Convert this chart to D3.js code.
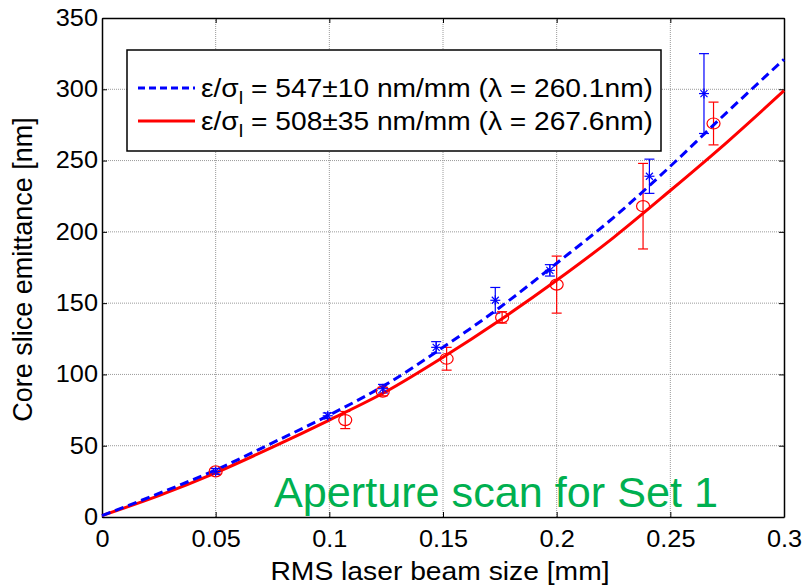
<!DOCTYPE html>
<html>
<head>
<meta charset="utf-8">
<script src="https://cdn.jsdelivr.net/npm/d3@7"></script>
<style>
  body { margin: 0; padding: 0; background: #fff; }
  text { font-family: "Liberation Sans", Arial, sans-serif; }
</style>
</head>
<body>
<script>
// fitted curves
const fitX = [0, 0.025, 0.05, 0.075, 0.1, 0.125, 0.15, 0.175, 0.2, 0.225, 0.25, 0.275, 0.3];
const fitBlue = [1, 16.5, 33, 52, 71.5, 93, 119, 147, 178, 210, 246, 284, 321];
const fitRed = [1, 15, 31, 49, 68, 88, 112, 138, 166, 196, 229, 263, 299];

// measured points (blue asterisks, red circles)
const blueX = [0.05, 0.0993, 0.1236, 0.147, 0.173, 0.197, 0.2408, 0.2648];
const blueY = [32, 71, 90, 119, 152, 173, 239, 297];
const blueErr = [2, 2, 3, 4, 9, 4, 12, 28];
const redX = [0.05, 0.107, 0.1235, 0.1516, 0.176, 0.2, 0.238, 0.269];
const redY = [32, 68, 88, 111, 140, 163, 218, 276];
const redErr = [2, 6, 3, 8, 4, 20, 30, 15];

const xTicks = [0, 0.05, 0.1, 0.15, 0.2, 0.25, 0.3];
const yTicks = [0, 50, 100, 150, 200, 250, 300, 350];
const legendLabels = [
  { pre: "ε/σ", sub: "l", post: " = 547±10 nm/mm (λ = 260.1nm)" },
  { pre: "ε/σ", sub: "l", post: " = 508±35 nm/mm (λ = 267.6nm)" }
];

const W = 805, H = 588;
const m = { left: 102, top: 18, right: 21, bottom: 71 };
const stretch = 1.13; // the picture is a bit wider than tall

const svg = d3.select("body").append("svg")
  .attr("width", W).attr("height", H);

const x = d3.scaleLinear().domain([0, 0.3]).range([m.left, W - m.right]);
const y = d3.scaleLinear().domain([0, 350]).range([H - m.bottom, m.top]);

// stretch text horizontally a little
function widen(sel, f) {
  sel.each(function() {
    const len = this.getComputedTextLength();
    d3.select(this).attr("textLength", len * (f || stretch)).attr("lengthAdjust", "spacingAndGlyphs");
  });
}

// grid
const grid = svg.append("g")
  .attr("stroke", "#9a9a9a").attr("stroke-width", 1).attr("stroke-dasharray", "1,1");
grid.selectAll("line.gx").data(xTicks.slice(1, -1)).join("line")
  .attr("x1", d => x(d)).attr("x2", d => x(d))
  .attr("y1", y(0)).attr("y2", y(350));
grid.selectAll("line.gy").data(yTicks.slice(1, -1)).join("line")
  .attr("y1", d => y(d)).attr("y2", d => y(d))
  .attr("x1", x(0)).attr("x2", x(0.3));

// axes, ticks inward on all sides
const tick = 5;
const xb = svg.append("g").attr("transform", `translate(0,${y(0)})`)
  .call(d3.axisBottom(x).tickValues(xTicks).tickSizeInner(-tick).tickSizeOuter(0).tickPadding(14).tickFormat(d3.format("")));
const yl = svg.append("g").attr("transform", `translate(${x(0)},0)`)
  .call(d3.axisLeft(y).tickValues(yTicks).tickSizeInner(-tick).tickSizeOuter(0).tickPadding(4));
svg.append("g").attr("transform", `translate(0,${y(350)})`)
  .call(d3.axisTop(x).tickValues(xTicks).tickSizeInner(-tick).tickSizeOuter(0).tickFormat(""));
svg.append("g").attr("transform", `translate(${x(0.3)},0)`)
  .call(d3.axisRight(y).tickValues(yTicks).tickSizeInner(-tick).tickSizeOuter(0).tickFormat(""));
svg.selectAll(".domain").attr("stroke", "#000").attr("stroke-width", 1.5);
svg.selectAll(".tick line").attr("stroke", "#000");
svg.selectAll(".tick text")
  .attr("font-size", 23).attr("fill", "#000")
  .style("font-family", "'Liberation Sans', Arial, sans-serif");
widen(xb.selectAll(".tick text"), 1.1);
widen(yl.selectAll(".tick text"), 1.1);

// axis labels
const xLab = svg.append("text")
  .attr("x", 440).attr("y", 580).attr("text-anchor", "middle")
  .attr("font-size", 25).text("RMS laser beam size [mm]");
widen(xLab);
svg.append("text")
  .attr("transform", `translate(32,${y(175) + 2}) rotate(-90)`)
  .attr("text-anchor", "middle").attr("font-size", 27)
  .text("Core slice emittance [nm]");

// green annotation
svg.append("text")
  .attr("x", 274).attr("y", 507)
  .attr("font-family", "Lato, 'Open Sans', sans-serif")
  .attr("font-size", 42).attr("fill", "#00b050")
  .attr("textLength", 444).attr("lengthAdjust", "spacingAndGlyphs")
  .text("Aperture scan for Set 1");

// error bars
function errorBars(xs, ys, es, color) {
  const g = svg.append("g").attr("stroke", color).attr("stroke-width", 1.2).attr("fill", "none");
  const cap = 5;
  xs.forEach((xv, i) => {
    const px = x(xv), lo = y(ys[i] - es[i]), hi = y(ys[i] + es[i]);
    g.append("line").attr("x1", px).attr("x2", px).attr("y1", lo).attr("y2", hi);
    g.append("line").attr("x1", px - cap).attr("x2", px + cap).attr("y1", lo).attr("y2", lo);
    g.append("line").attr("x1", px - cap).attr("x2", px + cap).attr("y1", hi).attr("y2", hi);
  });
  return g;
}
errorBars(redX, redY, redErr, "#ff0000");
errorBars(blueX, blueY, blueErr, "#0000ff");

// fit lines
const line = d3.line().x(d => x(d[0])).y(d => y(d[1])).curve(d3.curveMonotoneX);
svg.append("path").datum(fitX.map((v, i) => [v, fitRed[i]]))
  .attr("fill", "none").attr("stroke", "#ff0000").attr("stroke-width", 3)
  .attr("d", line);
svg.append("path").datum(fitX.map((v, i) => [v, fitBlue[i]]))
  .attr("fill", "none").attr("stroke", "#0000ff").attr("stroke-width", 3)
  .attr("stroke-dasharray", "9,5").attr("d", line);

// markers
svg.append("g").selectAll("ellipse").data(redX).join("ellipse")
  .attr("cx", d => x(d)).attr("cy", (d, i) => y(redY[i]))
  .attr("rx", 6.5).attr("ry", 5.5)
  .attr("fill", "none").attr("stroke", "#ff0000").attr("stroke-width", 1.2);
const star = svg.append("g").attr("stroke", "#0000ff").attr("stroke-width", 1.2);
blueX.forEach((xv, i) => {
  const px = x(xv), py = y(blueY[i]), r = 5;
  star.append("line").attr("x1", px - r).attr("x2", px + r).attr("y1", py).attr("y2", py);
  star.append("line").attr("x1", px).attr("x2", px).attr("y1", py - r).attr("y2", py + r);
  star.append("line").attr("x1", px - r * 0.7).attr("x2", px + r * 0.7).attr("y1", py - r * 0.7).attr("y2", py + r * 0.7);
  star.append("line").attr("x1", px - r * 0.7).attr("x2", px + r * 0.7).attr("y1", py + r * 0.7).attr("y2", py - r * 0.7);
});

// legend
const lg = svg.append("g");
lg.append("rect").attr("x", 127).attr("y", 50).attr("width", 534).attr("height", 101)
  .attr("fill", "#fff").attr("stroke", "#000").attr("stroke-width", 1.5);
const legColors = ["#0000ff", "#ff0000"];
legendLabels.forEach((l, i) => {
  const ly = 88 + i * 33;
  lg.append("line").attr("x1", 138).attr("x2", 195).attr("y1", ly).attr("y2", ly)
    .attr("stroke", legColors[i]).attr("stroke-width", 3)
    .attr("stroke-dasharray", i === 0 ? "7,4" : null);
  const t = lg.append("text").attr("x", 201).attr("y", ly + 9).attr("font-size", 25);
  t.append("tspan").text(l.pre);
  t.append("tspan").attr("font-size", 18).attr("dy", 7).text(l.sub);
  t.append("tspan").attr("dy", -7).text(l.post);
  t.attr("textLength", 452).attr("lengthAdjust", "spacingAndGlyphs");
});
</script>
</body>
</html>
